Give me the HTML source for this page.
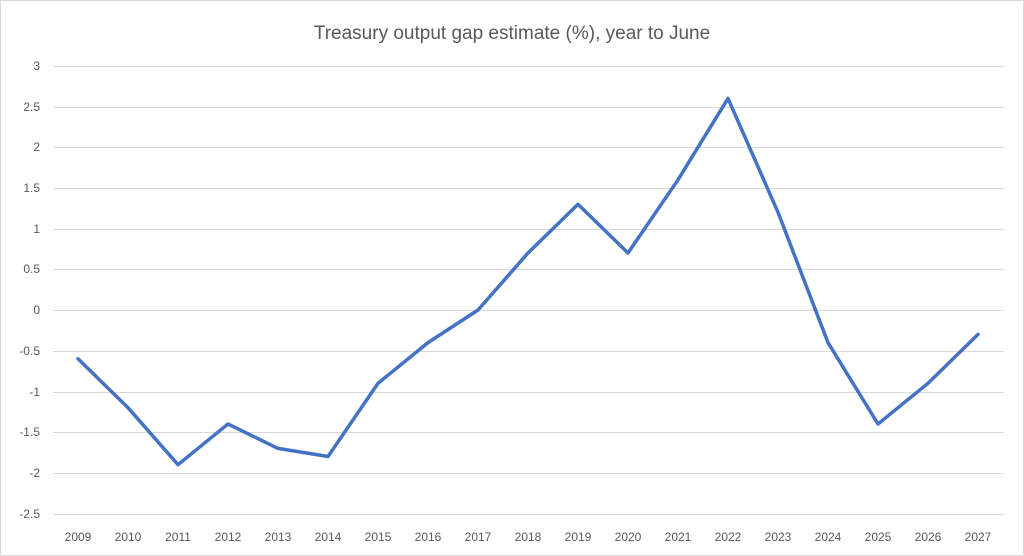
<!DOCTYPE html>
<html><head><meta charset="utf-8"><style>
html,body{margin:0;padding:0;background:#fff;}
svg{display:block;}
text{font-family:"Liberation Sans",sans-serif;fill:#595959;}
</style></head><body>
<svg width="1024" height="556" viewBox="0 0 1024 556">
<rect x="0.5" y="0.5" width="1023" height="555" fill="#fff" stroke="#d9d9d9"/>
<text x="512" y="39" font-size="19" text-anchor="middle">Treasury output gap estimate (%), year to June</text>
<g stroke="#d9d9d9" stroke-width="1">
<line x1="53" x2="1004" y1="66.5" y2="66.5"/>
<line x1="53" x2="1004" y1="107.5" y2="107.5"/>
<line x1="53" x2="1004" y1="147.5" y2="147.5"/>
<line x1="53" x2="1004" y1="188.5" y2="188.5"/>
<line x1="53" x2="1004" y1="229.5" y2="229.5"/>
<line x1="53" x2="1004" y1="269.5" y2="269.5"/>
<line x1="53" x2="1004" y1="310.5" y2="310.5"/>
<line x1="53" x2="1004" y1="351.5" y2="351.5"/>
<line x1="53" x2="1004" y1="392.5" y2="392.5"/>
<line x1="53" x2="1004" y1="432.5" y2="432.5"/>
<line x1="53" x2="1004" y1="473.5" y2="473.5"/>
<line x1="53" x2="1004" y1="514.5" y2="514.5"/>
</g>
<g font-size="12" text-anchor="end">
<text x="40" y="70">3</text><text x="40" y="111">2.5</text><text x="40" y="151">2</text>
<text x="40" y="192">1.5</text><text x="40" y="233">1</text><text x="40" y="273">0.5</text>
<text x="40" y="314">0</text><text x="40" y="355">-0.5</text><text x="40" y="396">-1</text>
<text x="40" y="436">-1.5</text><text x="40" y="477">-2</text><text x="40" y="518">-2.5</text>
</g>
<g font-size="12" text-anchor="middle">
<text x="78" y="541">2009</text><text x="128" y="541">2010</text><text x="178" y="541">2011</text>
<text x="228" y="541">2012</text><text x="278" y="541">2013</text><text x="328" y="541">2014</text>
<text x="378" y="541">2015</text><text x="428" y="541">2016</text><text x="478" y="541">2017</text>
<text x="528" y="541">2018</text><text x="578" y="541">2019</text><text x="628" y="541">2020</text>
<text x="678" y="541">2021</text><text x="728" y="541">2022</text><text x="778" y="541">2023</text>
<text x="828" y="541">2024</text><text x="878" y="541">2025</text><text x="928" y="541">2026</text>
<text x="978" y="541">2027</text>
</g>
<polyline fill="none" stroke="#4472c4" stroke-width="3.5" stroke-linejoin="round" stroke-linecap="round"
points="78,358.8 128,407.7 178,464.7 228,424 278,448.4 328,456.5 378,383.3 428,342.6 478,310 528,253 578,204.2 628,253 678,179.8 728,98.4 778,212.3 828,342.6 878,424 928,383.3 978,334.4"/>
</svg>
</body></html>
